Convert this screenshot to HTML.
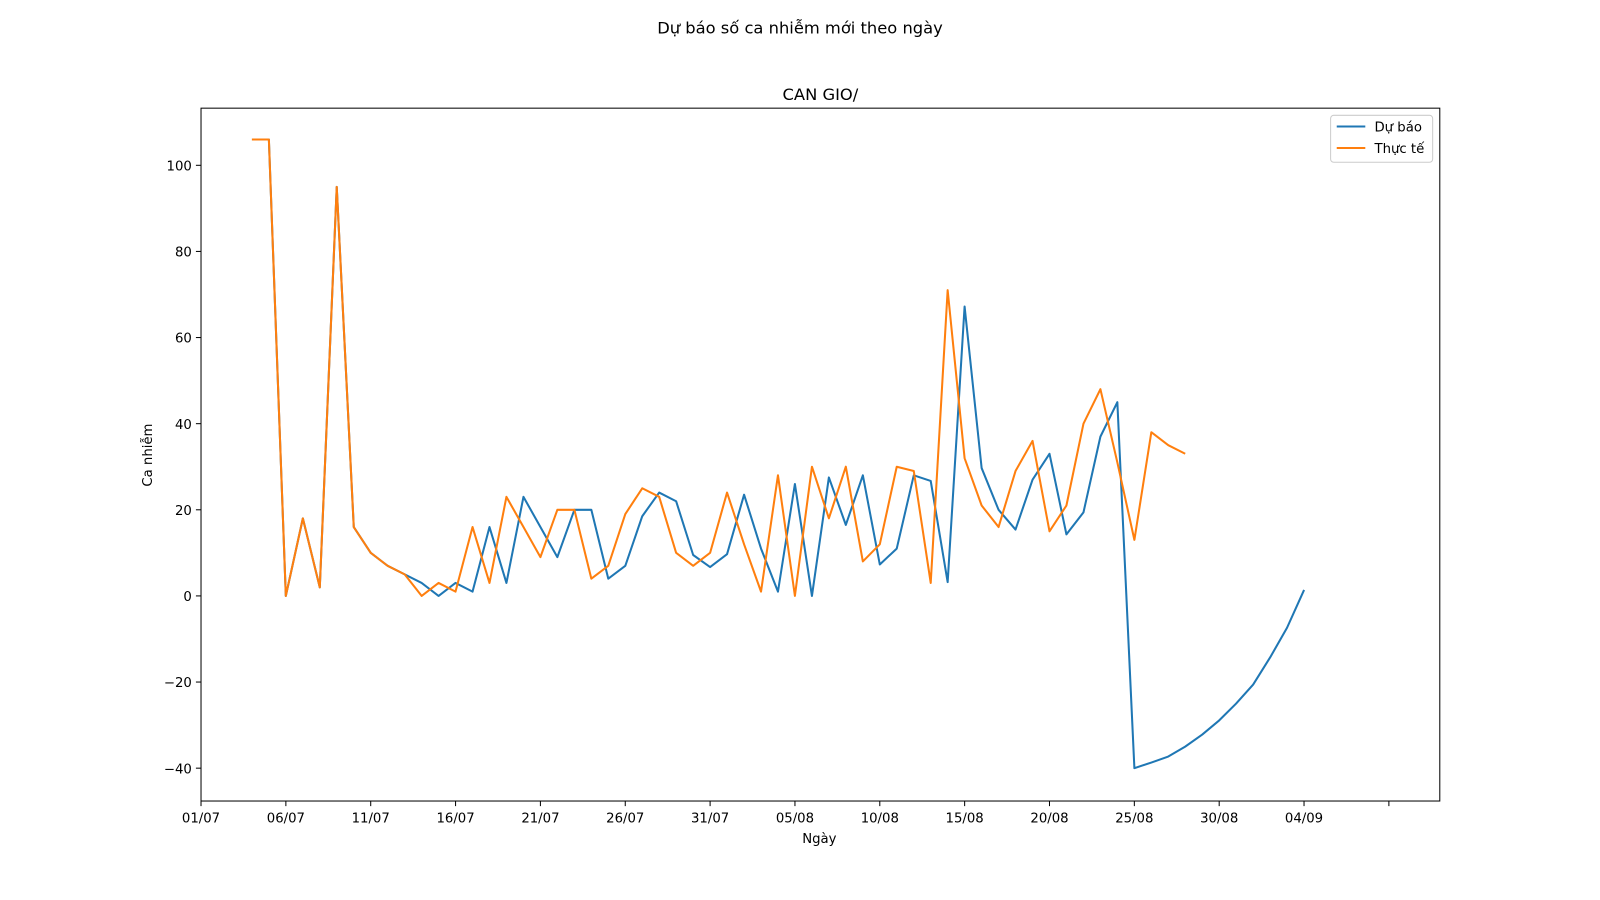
<!DOCTYPE html>
<html><head><meta charset="utf-8"><style>
body{margin:0;background:#fff;}
svg{display:block;font-family:"DejaVu Sans","Liberation Sans",sans-serif;}
</style></head><body>
<svg id="chart" width="1600" height="900" viewBox="0 0 1568 882">
<rect width="1568" height="882" fill="#fff"/>
<text x="784" y="33" font-size="16" text-anchor="middle">Dự báo số ca nhiễm mới theo ngày</text>
<text x="804" y="98" font-size="16" text-anchor="middle">CAN GIO/</text>
<text x="803" y="826" font-size="13" text-anchor="middle">Ngày</text>
<text transform="translate(149,446) rotate(-90)" font-size="13" text-anchor="middle">Ca nhiễm</text>
<g id="axes"></g>
<g id="series"></g>
<rect x="197" y="106" width="1214" height="679" fill="none" stroke="#000" stroke-width="1"/>
<g>
<rect x="1304" y="113" width="100" height="46" rx="3" fill="#fff" stroke="#ccc"/>
<line x1="1310" y1="124" x2="1338" y2="124" stroke="#1f77b4" stroke-width="2"/>
<text x="1347" y="129" font-size="13">Dự báo</text>
<line x1="1310" y1="145" x2="1338" y2="145" stroke="#ff7f0e" stroke-width="2"/>
<text x="1347" y="150" font-size="13">Thực tế</text>
</g>
</svg>
<script>
const startDay = 3;
const forecast = [106,106,0,18,2,95,16,10,7,5,3,0,3,1,16,3,23,16,9,20,20,4,7,18.5,24,22,9.5,6.7,9.7,23.5,11,1,26,0,27.5,16.5,28,7.3,11,28,26.7,3.2,67.2,29.7,20,15.4,27,33,14.3,19.4,37,45,-40,-38.7,-37.3,-35,-32.2,-28.9,-25,-20.6,-14.3,-7.4,1.4];
const actual = [106,106,0,18,2,95,16,10,7,5,0,3,1,16,3,23,16,9,20,20,4,7,19,25,23,10,7,10,24,12,1,28,0,30,18,30,8,12,30,29,3,71,32,21,16,29,36,15,21,40,48,31,13,38,35,33];
const xTickDays = [0,5,10,15,20,25,30,35,40,45,50,55,60,65,70];
const xTickLabels = ["01/07","06/07","11/07","16/07","21/07","26/07","31/07","05/08","10/08","15/08","20/08","25/08","30/08","04/09",""];
const yTicks = [-40,-20,0,20,40,60,80,100];

const NS = "http://www.w3.org/2000/svg";
const xS = d => 197 + d * 16.63;
const yS = v => 584 - v * 4.22;
const axes = document.getElementById('axes');
const series = document.getElementById('series');
function mk(tag, attrs, parent){const e=document.createElementNS(NS,tag);for(const k in attrs)e.setAttribute(k,attrs[k]);parent.appendChild(e);return e;}

xTickDays.forEach((d,i)=>{
  const x = xS(d);
  const t = mk('line',{x1:x,x2:x,y1:785,y2:790,stroke:'#000'},axes);
  
  
  const lb = mk('text',{x:x,y:806,'font-size':13,'text-anchor':'middle'},axes);
  lb.textContent = xTickLabels[i];
  
  
});
yTicks.forEach(v=>{
  const y = yS(v);
  const t = mk('line',{x1:192,x2:197,y1:y,y2:y,stroke:'#000'},axes);
  
  
  const lb = mk('text',{x:188,y:y+5,'font-size':13,'text-anchor':'end'},axes);
  lb.textContent = v < 0 ? '\u2212' + Math.abs(v) : String(v);
  
  
});
function line(vals, color, name){
  const pts = vals.map((v,i)=>xS(startDay+i).toFixed(1)+','+yS(v).toFixed(1)).join(' ');
  const p = mk('polyline',{points:pts,fill:'none',stroke:color,'stroke-width':2,'stroke-linejoin':'round'},series);
  
  
}
line(forecast,'#1f77b4','forecast-line');
line(actual,'#ff7f0e','actual-line');
</script>
</body></html>
